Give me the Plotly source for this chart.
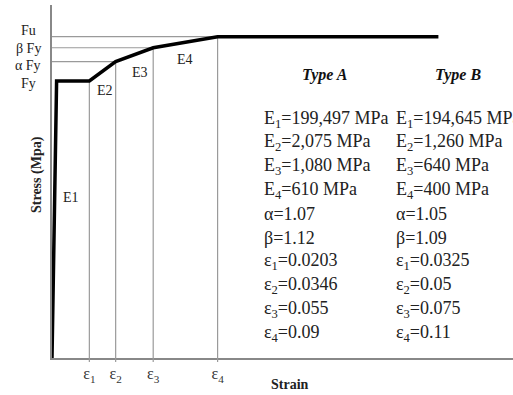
import plotly.graph_objects as go

# ---- data ----
strain_pts = [0.0, 0.0025, 0.0203, 0.0346, 0.055, 0.09, 0.21]
stress_pts = [0.0, 1.00, 1.00, 1.07, 1.12, 1.16, 1.16]

eps_ticks = [0.0203, 0.0346, 0.055, 0.09]
eps_labels = ["ε<sub>1</sub>", "ε<sub>2</sub>", "ε<sub>3</sub>", "ε<sub>4</sub>"]

stress_levels = [1.00, 1.07, 1.12, 1.16]
stress_labels = ["Fy", "α Fy", "β Fy", "Fu"]

seg_labels = ["E1", "E2", "E3", "E4"]

type_a = ["E<sub>1</sub>=199,497 MPa", "E<sub>2</sub>=2,075 MPa", "E<sub>3</sub>=1,080 MPa",
          "E<sub>4</sub>=610 MPa", "α=1.07", "β=1.12", "ε<sub>1</sub>=0.0203",
          "ε<sub>2</sub>=0.0346", "ε<sub>3</sub>=0.055", "ε<sub>4</sub>=0.09"]
type_b = ["E<sub>1</sub>=194,645 MPa", "E<sub>2</sub>=1,260 MPa", "E<sub>3</sub>=640 MPa",
          "E<sub>4</sub>=400 MPa", "α=1.05", "β=1.09", "ε<sub>1</sub>=0.0325",
          "ε<sub>2</sub>=0.05", "ε<sub>3</sub>=0.075", "ε<sub>4</sub>=0.11"]

# ---- layout geometry ----
W, H = 513, 395
L, R, T, B = 52, 0, 5, 37
PW, PH = W - L - R, H - T - B

def xp(px):
    return (px - L) / PW

def yp(py):
    return (H - B - py) / PH

SERIF = "Liberation Serif, Times New Roman, serif"
GUIDE = "#9a9a9a"

fig = go.Figure()

# guide lines
for e, s in zip(eps_ticks, stress_levels):
    fig.add_trace(go.Scatter(x=[e, e], y=[0, s], mode="lines",
                             line=dict(color=GUIDE, width=1.2), hoverinfo="skip",
                             showlegend=False))
for e, s in zip(eps_ticks[1:], stress_levels[1:]):
    fig.add_trace(go.Scatter(x=[0, e], y=[s, s], mode="lines",
                             line=dict(color=GUIDE, width=1.2), hoverinfo="skip",
                             showlegend=False))

# stress-strain curve
fig.add_trace(go.Scatter(x=strain_pts, y=stress_pts, mode="lines",
                         line=dict(color="black", width=3.5), showlegend=False))

# small tick stubs below the axis
shapes = []
for e in eps_ticks:
    shapes.append(dict(type="line", xref="x", yref="paper", x0=e, x1=e,
                       y0=-4 / PH, y1=0, line=dict(color=GUIDE, width=1.2)))

annotations = []
# stress level labels
label_py = [83, 65, 48, 31]
for lab, py in zip(stress_labels, label_py):
    annotations.append(dict(x=xp(28), y=yp(py), xref="paper", yref="paper",
                            text=lab, showarrow=False, xanchor="center", yanchor="middle",
                            font=dict(family=SERIF, size=14, color="#222")))
# segment labels
seg_pos = [(71, 197), (105, 90), (140, 73), (185, 60)]
for lab, (px, py) in zip(seg_labels, seg_pos):
    annotations.append(dict(x=xp(px), y=yp(py), xref="paper", yref="paper",
                            text=lab, showarrow=False, xanchor="center", yanchor="middle",
                            font=dict(family=SERIF, size=14, color="#222")))
# axis titles
annotations.append(dict(x=xp(290), y=yp(385), xref="paper", yref="paper",
                        text="<b>Strain</b>", showarrow=False, xanchor="center",
                        yanchor="middle", font=dict(family=SERIF, size=14, color="#222")))
annotations.append(dict(x=xp(37), y=yp(175), xref="paper", yref="paper",
                        text="<b>Stress (Mpa)</b>", showarrow=False, textangle=-90,
                        xanchor="center", yanchor="middle",
                        font=dict(family=SERIF, size=14, color="#222")))
# table headers
annotations.append(dict(x=xp(325), y=yp(75), xref="paper", yref="paper",
                        text="<b><i>Type A</i></b>", showarrow=False, xanchor="center",
                        yanchor="middle", font=dict(family=SERIF, size=16, color="#111")))
annotations.append(dict(x=xp(458), y=yp(75), xref="paper", yref="paper",
                        text="<b><i>Type B</i></b>", showarrow=False, xanchor="center",
                        yanchor="middle", font=dict(family=SERIF, size=16, color="#111")))
# table rows
for i, (a, b) in enumerate(zip(type_a, type_b)):
    py = 119 + 23.8 * i
    annotations.append(dict(x=xp(262), y=yp(py), xref="paper", yref="paper",
                            text=a, showarrow=False, xanchor="left", yanchor="middle",
                            font=dict(family=SERIF, size=18, color="#222")))
    annotations.append(dict(x=xp(394), y=yp(py), xref="paper", yref="paper",
                            text=b, showarrow=False, xanchor="left", yanchor="middle",
                            font=dict(family=SERIF, size=18, color="#222")))

x_max = PW / 1840.0
y_max = PH / 277.0

fig.update_layout(
    width=W, height=H,
    margin=dict(l=L, r=R, t=T, b=B, pad=0),
    paper_bgcolor="white", plot_bgcolor="white",
    annotations=annotations, shapes=shapes,
    xaxis=dict(range=[0, x_max], showgrid=False, zeroline=False,
               showline=True, linecolor="#888", linewidth=2,
               tickmode="array", tickvals=eps_ticks, ticktext=eps_labels,
               ticks="", ticklen=0,
               tickfont=dict(family=SERIF, size=16, color="#333")),
    yaxis=dict(range=[0, y_max], showgrid=False, zeroline=False,
               showline=True, linecolor="#888", linewidth=2,
               showticklabels=False, ticks=""),
)

fig.write_html("out.html", config={"displayModeBar": False},
               post_script="document.body.style.margin='0px';document.body.style.overflow='hidden';")
